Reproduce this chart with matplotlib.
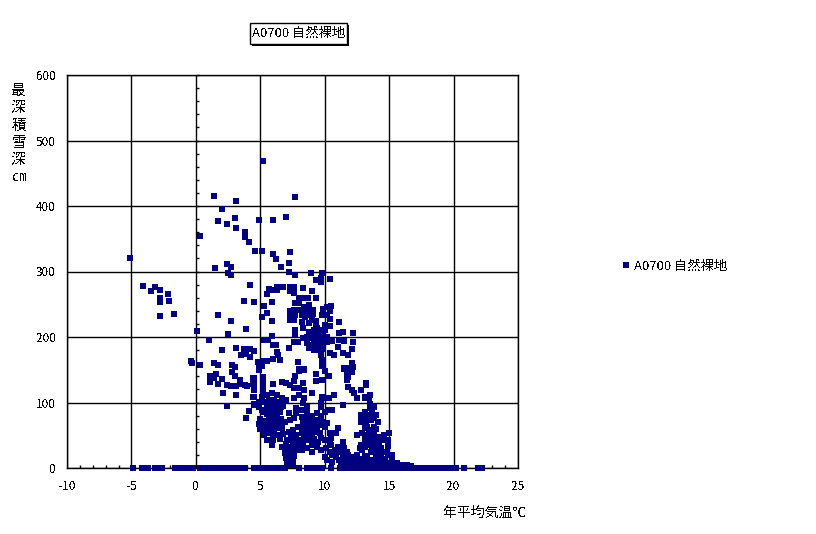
import matplotlib
matplotlib.use('Agg')
import matplotlib.pyplot as plt
from matplotlib.patches import Rectangle
from matplotlib.ticker import MultipleLocator
import numpy as np

plt.rcParams['font.family'] = ['Noto Sans CJK JP', 'DejaVu Sans']
plt.rcParams['axes.unicode_minus'] = False
plt.rcParams['text.antialiased'] = False

title = 'A0700 自然裸地'
xlabel = '年平均気温℃'
ylabel = '最\n深\n積\n雪\n深\n㎝'

# (annual mean temp, max snow depth), by area of the plot
pts_high = [(5.2,468),(1.4,415),(3.1,408),(7.7,414),(2.0,395),(1.7,377),(2.4,372),(3.0,382),(3.1,366),
    (4.9,379),(6.0,379),(7.0,383),(3.8,360),(3.8,353),(4.1,345),(0.35,354),(4.6,331),(5.1,331),(6.0,327),
    (6.2,319),(7.3,330),(7.25,313),(6.6,307),(7.25,299),(7.7,295),(-5.1,321),(2.4,311),(2.75,307),(1.45,305),
    (2.5,298),(2.75,295),(8.9,298),(9.8,298),(9.7,290),(9.3,287),(9.7,284),(10.4,289)]
pts_cold = [(-4.1,278),(-3.5,270),(-3.2,277),(-2.8,272),(-2.2,266),(-2.75,260),(-2.75,253),(-2.05,255),
    (-2.8,232),(-1.7,235),(0.1,209),(1.75,234),(2.75,224),(2.5,205),(1.05,195),(3.9,212),(4.2,279),(3.7,255),
    (4.5,253),(5.3,247),(5.9,253),(5.55,237),(5.1,231),(5.9,224)]
pts_arc = [(5.5,266),(5.7,273),(5.9,272),(6.3,276),(6.3,272),(6.8,276),(7.3,276),(7.6,276),(7.3,270),(7.6,267),
    (8.3,275),(9.0,270),(9.3,260),(8.0,260),(8.4,260),(8.7,260),(7.7,252),(8.0,252),(8.4,246),(8.8,249),(9.1,241),
    (7.3,240),(7.6,241),(8.0,241),(8.4,238),(8.8,241),(9.1,235),(7.3,234),(7.7,234),(8.2,234),(8.5,231),(8.8,234),
    (7.3,226),(7.6,226),(8.2,223),(8.3,214),(8.8,221),(9.0,226),(9.3,224),(7.7,211),(7.7,205),(10.5,247),(10.2,246),
    (9.9,243),(10.4,240),(9.8,234),(10.2,234),(10.4,227),(11.1,223),(10.4,217),(10.0,218),(9.3,217),(9.6,211),
    (11.1,206),(11.4,208),(12.2,206),(12.2,192),(11.5,194),(11.0,185),(11.1,195)]
pts_centre = [(9.0,206),(9.4,203),(9.8,203),(10.2,200),(9.0,198),(9.4,195),(9.8,195),(10.2,192),(10.6,194),(8.6,200),
    (8.3,198),(7.9,192),(7.6,192),(8.6,191),(9.0,188),(9.4,188),(9.8,188),(8.8,183),(9.2,180),(9.6,180),(9.7,173),
    (9.8,165),(9.8,157),(10.4,176),(10.7,173),(11.4,176),(11.8,173),(12.1,182),(12.1,160),(11.8,153),(11.5,153),
    (7.2,183),(7.9,162),(5.3,195),(5.6,195),(5.9,201),(6.0,188),(6.2,188),(6.3,177),(6.4,173),(6.5,165),(6.0,166),
    (4.8,162),(5.2,163),(5.5,163),(5.1,156),(4.9,153),(8.0,151),(8.4,151),
    (9.2,193),(9.6,198),(10.0,196),(9.2,210),(8.8,208),(9.4,214),(10.0,210),(9.7,190),(9.5,183),(9.9,182)]
pts_band = [(2.0,180),(3.1,183),(3.7,182),(3.7,175),(4.2,182),(4.5,179),(3.5,172),(4.2,169),(3.9,174),(-0.4,163),
    (-0.3,160),(0.35,157),(1.4,160),(1.75,157),(2.8,157),(3.0,154),(2.8,147),(3.0,140),(1.6,143),(1.1,140),(1.4,137),
    (1.1,131),(2.0,136),(1.75,128),(2.4,127),(2.75,125),(3.1,125),(3.4,134),(3.45,128),(3.8,127),(4.0,125),(4.4,137),
    (4.4,128),(4.5,119),(2.1,114),(3.15,111),(2.45,95),(3.9,76),(4.15,87),(4.4,108),(4.5,98)]
pts_mid = [(4.9,150),(4.5,137),(4.5,130),(4.5,122),(4.5,108),(5.2,139),(5.2,131),(5.2,124),(5.2,116),(6.0,128),(6.7,131),
    (7.0,130),(7.3,127),(7.6,122),(8.0,148),(8.4,150),(7.7,140),(7.6,133),(9.3,144),(9.3,133),(9.8,134),(10.0,148),
    (10.3,140),(9.8,156),(11.5,153),(11.9,153),(12.1,147),(11.8,139),(11.7,134),(11.8,124),(12.1,119),(12.3,114),
    (12.5,107),(12.8,119),(13.2,128),(13.1,108),(13.4,107),(11.4,96),(10.7,111),(10.3,107),(9.8,108),(10.0,107),
    (9.7,99),(9.7,93),(10.6,89),(10.3,89),(10.0,85),(9.4,84),(8.3,130),(8.0,122),(8.4,119),(9.0,114),(8.0,111),(7.6,107),
    (8.4,107),(8.3,99),(8.6,93),(7.8,92),(7.8,84),(8.2,89),(8.6,85),(8.8,78),(7.2,84),(7.6,76)]
pts_left_blob = [(5.1,108),(5.5,111),(5.9,114),(6.3,111),(6.7,107),(4.9,101),(5.3,101),(5.7,104),(6.1,104),(6.5,101),(7.0,104),
    (4.5,96),(4.9,93),(5.5,93),(5.9,93),(6.2,93),(6.6,93),(5.3,85),(5.7,85),(6.1,85),(6.5,85),(5.7,78),(6.1,78),
    (4.9,67),(5.3,66),(5.7,69),(6.1,69),(6.5,70),(6.9,70),(7.3,73),(5.2,58),(5.5,61),(5.9,61),(6.3,61),(6.7,61),(5.3,50),
    (5.7,53),(6.1,53),(5.5,43),(5.9,35),
    (5.6,100),(6.0,98),(6.4,97),(6.8,95),(5.1,88),(5.5,82),(5.9,80),(6.3,78),(6.6,75),(5.0,75),(5.4,72),(5.0,60),(5.6,56),
    (6.0,48),(6.4,50),(6.8,52),(7.2,55),(6.5,45),(6.0,42)]
pts_low_blob = [(7.5,58),(7.9,63),(8.3,70),(8.7,69),(9.0,73),(9.4,73),(9.8,70),(10.2,69),(8.3,61),(8.7,58),(9.0,61),(9.4,61),
    (7.4,50),(7.8,50),(8.2,53),(8.6,50),(9.0,50),(7.1,43),(7.5,43),(7.9,43),(8.3,43),(8.7,43),(6.7,32),(7.1,32),(7.5,35),
    (7.9,35),(8.3,35),(6.9,23),(7.3,23),(7.6,24),(8.0,27),(7.0,15),(7.4,15),(7.1,8),(7.5,9),(9.0,35),(9.4,32),(9.7,27),
    (9.0,24),(9.6,53),(9.7,46),(10.0,43),(10.4,53),(10.4,38),(11.0,61),(10.9,53),(10.5,46),(10.4,24),(10.6,20),(10.0,17),
    (10.2,12),(11.0,32),(11.4,40),(11.5,31),(11.4,20),(11.1,12),(11.8,20),(10.6,9),
    (7.0,37),(7.4,28),(7.8,28),(8.2,28),(8.6,30),(8.4,48),(8.8,52),(9.2,45),(8.8,65),(9.2,66),(9.6,66),(10.0,62),(9.5,40),
    (9.2,55),(8.5,78),(8.2,78),(9.0,80),(9.7,80),(7.1,20),(7.6,18),(7.3,12),(7.2,4),(7.5,4),(10.1,30),(10.5,35),(10.8,28),
    (11.2,28),(11.6,14),(11.3,10),(11.6,9)]
pts_warm = [(13.1,84),(12.8,78),(13.2,73),(12.8,70),(12.5,50),(12.9,53),(13.3,50),(12.8,35),(13.1,32),(12.7,31),(12.5,20),(12.1,12),
    (13.2,35),(12.1,160),(12.2,154),(11.5,151),(11.8,151),(12.1,147),(11.7,142),(11.7,136),(13.2,130),(13.2,127),(13.5,111),
    (13.1,107),(13.5,98),(13.8,93),(13.5,92),(13.1,85),(12.8,81),(13.3,81),(13.7,84),(14.0,81),(13.2,70),(13.6,73),(14.1,70),
    (13.3,63),(13.8,63),(13.1,61),(13.5,55),(13.8,55),(13.5,47),(13.8,47),(14.2,47),(14.6,50),(15.0,53),(13.5,40),(13.8,40),
    (14.2,40),(14.6,43),(14.9,43),(12.8,34),(12.9,27),(13.7,32),(14.1,32),(14.9,34),(12.3,17),(13.6,24),(14.0,24),(14.4,24),
    (14.8,24),(14.0,17),(14.4,17),(14.9,20),(15.2,20),(11.7,24),(11.4,24),(11.0,24),(11.9,17),(10.9,17),
    (13.4,78),(13.8,76),(14.0,60),(13.4,58),(13.1,45),(13.7,38),(14.4,30),(14.4,12),(13.9,12),(14.7,14),(13.1,18),(12.9,14),
    (13.3,15),(12.6,12)]
pts_near_zero = [(11.3,8),(11.6,5),(11.9,10),(12.2,6),(12.5,9),(12.8,5),(13.1,8),(13.4,12),(13.7,6),(14.0,9),(14.3,6),(14.6,10),
    (14.9,7),(15.2,12),(15.4,6),(15.6,8),(15.9,4),(16.2,5),(16.4,4),(16.7,3),(11.4,5),(11.8,6),(12.1,5),(12.4,6),(12.7,7),
    (13.0,5),(13.3,6),(13.6,5),(13.9,6),(14.2,5),(14.5,6),(14.8,5),(15.1,6),(15.3,8)]
# stations with no snow, along the axis
zero_temps = [-4.9,-4.2,-3.7,-3.2,-3.0,-2.8,-2.6,-1.65,-1.4,-1.2,-1.0,-0.8,-0.6,-0.4,-0.2,0.35,0.6,0.8,1.0,1.2,1.4,
    1.75,2.0,2.2,2.4,2.65,3.0,3.2,3.4,3.65,3.85,4.5,4.7,4.9,5.1,5.3,5.5,5.7,5.95,6.25,6.5,6.7,6.9,8.0,8.6,8.8,9.0,9.2,9.4,9.6,
    9.8,10.5,11.2,11.4,11.6,11.8,12.0,12.2,12.4,12.6,12.8,13.0,13.2,13.4,13.6,13.8,14.0,14.2,14.4,14.6,14.8,15.0,15.2,15.4,
    15.6,15.8,16.0,16.2,16.4,16.6,16.8,17.0,17.2,17.4,17.6,17.8,18.0,18.2,18.4,18.6,18.8,19.0,19.2,19.4,19.6,19.8,20.0,20.2,
    20.8,21.9,22.2]

xmajor = np.arange(-10, 26, 5)
ymajor = np.arange(0, 601, 100)

groups = [pts_high, pts_cold, pts_arc, pts_centre, pts_band, pts_mid, pts_left_blob, pts_low_blob, pts_warm, pts_near_zero]
pts = np.array([p for g in groups for p in g])
temps = np.concatenate([pts[:, 0], zero_temps])
depths = np.concatenate([pts[:, 1], np.zeros(len(zero_temps))])

fig = plt.figure(figsize=(8.16, 5.34), dpi=100)
ax = fig.add_axes([67/816, 1-468/534, 451/816, 393/534])

ax.plot(temps, depths, 's', color='#000080', ms=4.8, mew=0, label=title, clip_on=False, zorder=3)

ax.set_xlim(-10, 25)
ax.set_ylim(0, 600)
ax.set_xticks(xmajor)
ax.set_yticks(ymajor)
ax.xaxis.set_minor_locator(MultipleLocator(1))
ax.grid(True, which='major', color='black', lw=1)
ax.set_axisbelow(True)
ax.tick_params(axis='both', which='major', length=0, labelsize=8.5)
ax.tick_params(axis='y', which='major', pad=8)
ax.tick_params(axis='x', which='major', pad=9)
ax.tick_params(axis='x', which='minor', direction='in', length=2, width=1)
for s in ax.spines.values():
    s.set_linewidth(1)

# small ticks on the y axis that crosses at 0 degrees
sec = ax.secondary_yaxis(10/35)
sec.set_yticks(np.arange(0, 601, 20))
sec.set_yticklabels([])
sec.tick_params(axis='y', direction='in', length=2, width=1)
sec.spines['left'].set_visible(False)

fig.text(19/816, 1-134/534, ylabel, fontsize=10.5, ha='center', va='center', linespacing=1.28)
fig.text(484.5/816, 1-513/534, xlabel, fontsize=10, ha='center', va='center')

# title box with its shadow
fig.add_artist(Rectangle((252/816, 1-46/534), 97/816, 21/534, transform=fig.transFigure, fc='black', ec='black', lw=0))
fig.add_artist(Rectangle((250/816, 1-44/534), 97/816, 21/534, transform=fig.transFigure, fc='white', ec='black', lw=1))
fig.text(298.5/816, 1-33.5/534, title, fontsize=9.5, ha='center', va='center')

ax.legend(loc='center left', bbox_to_anchor=(616/816, 1-266/534), bbox_transform=fig.transFigure, frameon=False,
          fontsize=9.5, handletextpad=-0.1, borderpad=0, borderaxespad=0, numpoints=1, handlelength=1.5)

fig.savefig('out.png', dpi=100)
